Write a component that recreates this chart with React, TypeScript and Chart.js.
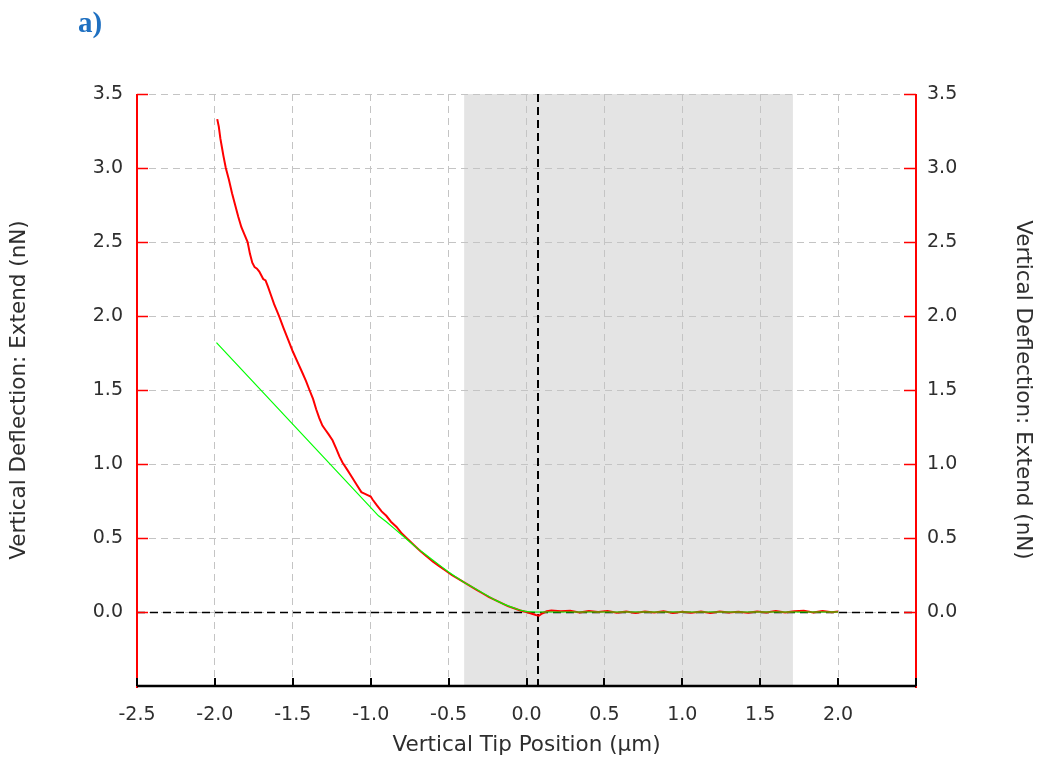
import React, { useEffect, useRef } from "react";
import { Chart, registerables } from "chart.js";

Chart.register(...registerables);

// Extend curve (red), measured data
const extendX = [
  -1.985, -1.975, -1.965, -1.955, -1.945, -1.93, -1.91, -1.89, -1.87, -1.85,
  -1.83, -1.81, -1.79, -1.775, -1.76, -1.745, -1.73, -1.715, -1.7, -1.69,
  -1.675, -1.66, -1.64, -1.62, -1.6, -1.585, -1.56, -1.53, -1.5, -1.47,
  -1.44, -1.415, -1.393, -1.37, -1.35, -1.33, -1.31, -1.29, -1.27, -1.245,
  -1.22, -1.2, -1.181, -1.15, -1.12, -1.09, -1.06, -1.04, -1.02, -1.0,
  -0.988, -0.96, -0.93, -0.9, -0.87, -0.834, -0.8, -0.76, -0.72, -0.68,
  -0.64, -0.6, -0.56, -0.52, -0.48, -0.44, -0.4, -0.36, -0.32, -0.28,
  -0.24, -0.2, -0.16, -0.12, -0.08, -0.04, 0.0, 0.03, 0.06, 0.08,
  0.1, 0.13, 0.16, 0.22, 0.28, 0.34, 0.4, 0.46, 0.52, 0.58,
  0.64, 0.7, 0.76, 0.82, 0.88, 0.94, 1.0, 1.06, 1.12, 1.18,
  1.24, 1.3, 1.36, 1.42, 1.48, 1.54, 1.6, 1.66, 1.72, 1.78,
  1.84, 1.9, 1.96, 2.0,
];
const extendY = [
  3.33, 3.28, 3.2, 3.14, 3.08, 3.0, 2.92, 2.83, 2.75, 2.67,
  2.6, 2.55, 2.5, 2.42, 2.36, 2.33, 2.32, 2.3, 2.27, 2.25,
  2.24, 2.2, 2.14, 2.08, 2.03, 1.99, 1.92, 1.84, 1.76, 1.69,
  1.62, 1.56, 1.5, 1.44, 1.37, 1.31, 1.26, 1.23, 1.2, 1.16,
  1.1, 1.05, 1.01, 0.96, 0.91, 0.86, 0.81, 0.8, 0.79, 0.78,
  0.76, 0.72, 0.68, 0.65, 0.61, 0.575, 0.53, 0.49, 0.45, 0.41,
  0.375, 0.34, 0.31, 0.28, 0.25, 0.225, 0.2, 0.175, 0.15, 0.125,
  0.1, 0.08, 0.06, 0.04, 0.025, 0.01, 0.0, -0.01, -0.02, -0.025,
  -0.01, 0.005, 0.01, 0.005, 0.008, -0.003, 0.006, 0.0, 0.007, -0.005,
  0.004, -0.006, 0.003, -0.004, 0.005, -0.007, 0.002, -0.005, 0.004, -0.006,
  0.003, -0.004, 0.002, -0.005, 0.004, -0.003, 0.006, -0.004, 0.005, 0.008,
  -0.003, 0.006, -0.002, 0.004,
];

// Fit curve (green)
const fitX = [
  -1.99, -0.95, -0.9, -0.85, -0.8, -0.75, -0.7, -0.65, -0.6, -0.55,
  -0.5, -0.45, -0.4, -0.35, -0.3, -0.25, -0.2, -0.15, -0.1, -0.05,
  0.0, 0.05, 2.0,
];
const fitY = [
  1.82, 0.65, 0.61, 0.565, 0.52, 0.475, 0.43, 0.39, 0.35, 0.31,
  0.27, 0.235, 0.2, 0.17, 0.14, 0.11, 0.08, 0.055, 0.035, 0.015,
  0.003, 0.0, 0.0,
];

const SHADE_FROM = -0.4;
const SHADE_TO = 1.71;
const CONTACT_X = 0.075;
const BASELINE_Y = 0.0;

const X_MIN = -2.5;
const X_MAX = 2.5;
const Y_MIN = -0.5;
const Y_MAX = 3.5;
const STEP = 0.5;

const AXIS_TITLE_X = "Vertical Tip Position (µm)";
const AXIS_TITLE_Y = "Vertical Deflection: Extend (nN)";
const PANEL_LABEL = "a)";

const FONT = "'DejaVu Sans', sans-serif";
const TEXT_COLOR = "#2e2e2e";

const overlayPlugin = {
  id: "overlay",
  beforeDraw(chart: any) {
    const { ctx, chartArea, scales } = chart;
    const x0 = scales.x.getPixelForValue(SHADE_FROM);
    const x1 = scales.x.getPixelForValue(SHADE_TO);
    ctx.save();
    ctx.fillStyle = "#e4e4e4";
    ctx.fillRect(x0, chartArea.top, x1 - x0, chartArea.bottom - chartArea.top);
    ctx.restore();
  },
  beforeDatasetsDraw(chart: any) {
    const { ctx, chartArea, scales } = chart;
    ctx.save();
    ctx.strokeStyle = "#000000";
    ctx.setLineDash([8, 5]);
    ctx.lineWidth = 1.5;
    const yb = Math.round(scales.y.getPixelForValue(BASELINE_Y)) + 0.5;
    ctx.beginPath();
    ctx.moveTo(chartArea.left, yb);
    ctx.lineTo(chartArea.right, yb);
    ctx.stroke();
    ctx.lineWidth = 2;
    const xc = Math.round(scales.x.getPixelForValue(CONTACT_X));
    ctx.beginPath();
    ctx.moveTo(xc, chartArea.top);
    ctx.lineTo(xc, chartArea.bottom);
    ctx.stroke();
    ctx.restore();
  },
  afterDatasetsDraw(chart: any) {
    const { ctx, chartArea, scales } = chart;
    const { left, right, top, bottom } = chartArea;
    ctx.save();
    ctx.setLineDash([]);
    ctx.strokeStyle = "#ff0000";
    ctx.lineWidth = 2;
    ctx.beginPath();
    ctx.moveTo(left, top);
    ctx.lineTo(left, bottom + 2);
    ctx.moveTo(right, top);
    ctx.lineTo(right, bottom + 2);
    ctx.stroke();
    ctx.lineWidth = 1.5;
    ctx.beginPath();
    scales.y.ticks.forEach((t: any) => {
      if (t.value < 0) return;
      const py = Math.round(scales.y.getPixelForValue(t.value)) + 0.5;
      ctx.moveTo(left, py);
      ctx.lineTo(left + 11, py);
      ctx.moveTo(right, py);
      ctx.lineTo(right - 12, py);
    });
    ctx.stroke();
    ctx.strokeStyle = "#000000";
    ctx.lineWidth = 2.5;
    ctx.beginPath();
    ctx.moveTo(left, bottom);
    ctx.lineTo(right, bottom);
    ctx.stroke();
    ctx.lineWidth = 2;
    ctx.beginPath();
    scales.x.ticks.forEach((t: any) => {
      const px = Math.round(scales.x.getPixelForValue(t.value));
      ctx.moveTo(px, bottom);
      ctx.lineTo(px, bottom - 8);
    });
    ctx.stroke();
    ctx.restore();
  },
};

const fmt = (v: number) => (Math.round(v * 10) / 10).toFixed(1);

export default function App() {
  const canvasRef = useRef<HTMLCanvasElement | null>(null);

  useEffect(() => {
    const canvas = canvasRef.current;
    if (!canvas) return;
    const chart = new Chart(canvas, {
      type: "line",
      data: {
        datasets: [
          {
            label: "Fit",
            data: fitX.map((x, i) => ({ x, y: fitY[i] })),
            borderColor: "#00ff00",
            borderWidth: 1.2,
            pointRadius: 0,
            tension: 0,
            order: 1,
          },
          {
            label: "Extend",
            data: extendX.map((x, i) => ({ x, y: extendY[i] })),
            borderColor: "#ff0000",
            borderWidth: 2,
            pointRadius: 0,
            tension: 0,
            order: 2,
          },
        ],
      },
      options: {
        animation: false,
        responsive: false,
        devicePixelRatio: 1,
        layout: { padding: { top: 94, left: 0, right: 0, bottom: 0 } },
        plugins: {
          legend: { display: false },
          tooltip: { enabled: false },
        },
        scales: {
          x: {
            type: "linear",
            min: X_MIN,
            max: X_MAX,
            afterFit: (s: any) => {
              s.height = 73;
            },
            ticks: {
              stepSize: STEP,
              padding: 18,
              color: TEXT_COLOR,
              font: { family: FONT, size: 19 },
              maxRotation: 0,
              autoSkip: false,
              callback: (v: any) => (Number(v) > 2.25 ? "" : fmt(Number(v))),
            },
            grid: { color: "#c4c4c4", drawTicks: false, lineWidth: 1 },
            border: { display: false, dash: [7, 5] },
            title: {
              display: true,
              text: AXIS_TITLE_X,
              color: TEXT_COLOR,
              font: { family: FONT, size: 21.5 },
              padding: { top: 0, bottom: 1 },
            },
          },
          y: {
            type: "linear",
            position: "left",
            min: Y_MIN,
            max: Y_MAX,
            afterFit: (s: any) => {
              s.width = 137;
            },
            ticks: {
              stepSize: STEP,
              padding: 14,
              color: TEXT_COLOR,
              font: { family: FONT, size: 19 },
              callback: (v: any) => (Number(v) < -0.01 ? "" : fmt(Number(v))),
            },
            grid: { color: "#c4c4c4", drawTicks: false, lineWidth: 1 },
            border: { display: false, dash: [7, 5] },
            title: {
              display: true,
              text: AXIS_TITLE_Y,
              color: TEXT_COLOR,
              font: { family: FONT, size: 21.5 },
              padding: { top: 7, bottom: 0 },
            },
          },
          y1: {
            type: "linear",
            position: "right",
            min: Y_MIN,
            max: Y_MAX,
            afterFit: (s: any) => {
              s.width = 127;
            },
            ticks: {
              stepSize: STEP,
              padding: 11,
              color: TEXT_COLOR,
              font: { family: FONT, size: 19 },
              callback: (v: any) => (Number(v) < -0.01 ? "" : fmt(Number(v))),
            },
            grid: { display: false, drawTicks: false },
            border: { display: false },
            title: {
              display: true,
              text: AXIS_TITLE_Y,
              color: TEXT_COLOR,
              font: { family: FONT, size: 21.5 },
              padding: { top: 8, bottom: 0 },
            },
          },
        },
      },
      plugins: [overlayPlugin],
    } as any);
    return () => chart.destroy();
  }, []);

  return (
    <div
      style={{
        position: "fixed",
        left: 0,
        top: 0,
        width: 1043,
        height: 759,
        background: "#ffffff",
      }}
    >
      <canvas ref={canvasRef} width={1043} height={759} style={{ display: "block" }} />
      <div
        style={{
          position: "absolute",
          left: 78,
          top: 5,
          fontFamily: "'Liberation Serif', 'Times New Roman', serif",
          fontWeight: "bold",
          fontSize: 29,
          lineHeight: "34px",
          color: "#1f70c1",
        }}
      >
        {PANEL_LABEL}
      </div>
    </div>
  );
}
